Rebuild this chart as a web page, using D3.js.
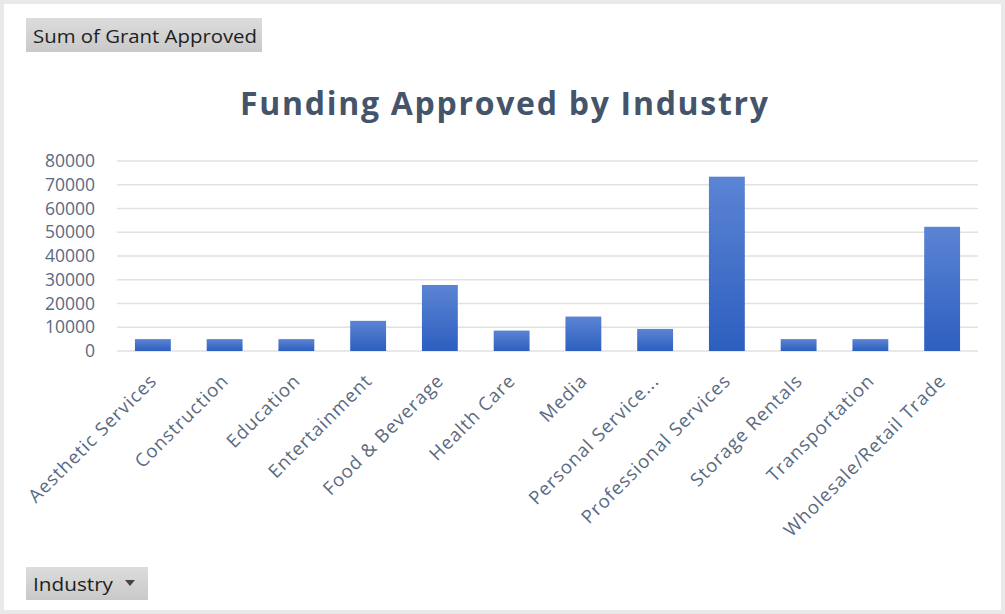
<!DOCTYPE html>
<html>
<head>
<meta charset="utf-8">
<script src="https://cdn.jsdelivr.net/npm/d3@7"></script>
<style>
  body { margin: 0; background: #e9e9e9; }
  svg { display: block; }
</style>
</head>
<body>
<div id="chart"></div>
<script>
// chart data
var industries = ["Aesthetic Services", "Construction", "Education", "Entertainment",
  "Food & Beverage", "Health Care", "Media", "Personal Service...",
  "Professional Services", "Storage Rentals", "Transportation", "Wholesale/Retail Trade"];
var grantApproved = [5000, 5000, 5000, 12700, 27800, 8600, 14500, 9300, 73400, 5000, 5000, 52300];
var yTicks = [0, 10000, 20000, 30000, 40000, 50000, 60000, 70000, 80000];

var svgWidth = 1005, svgHeight = 614;
var margin = { top: 161, left: 117, right: 27, bottom: 263 };
var width = svgWidth - margin.left - margin.right;
var height = svgHeight - margin.top - margin.bottom;

var svg = d3.select("#chart").append("svg")
  .attr("width", svgWidth)
  .attr("height", svgHeight);

// white panel inside the thin grey frame
svg.append("rect")
  .attr("x", 4).attr("y", 4)
  .attr("width", svgWidth - 8).attr("height", svgHeight - 8)
  .attr("fill", "#ffffff");

var defs = svg.append("defs");
var grad = defs.append("linearGradient")
  .attr("id", "barGrad").attr("x1", 0).attr("y1", 0).attr("x2", 0).attr("y2", 1);
grad.append("stop").attr("offset", "0%").attr("stop-color", "#5b84d4");
grad.append("stop").attr("offset", "100%").attr("stop-color", "#2d5fbf");

var btnGrad = defs.append("linearGradient")
  .attr("id", "btnGrad").attr("x1", 0).attr("y1", 0).attr("x2", 0).attr("y2", 1);
btnGrad.append("stop").attr("offset", "0%").attr("stop-color", "#dcdcdc");
btnGrad.append("stop").attr("offset", "100%").attr("stop-color", "#c9c9c9");

// field buttons
svg.append("rect")
  .attr("x", 26).attr("y", 18).attr("width", 236).attr("height", 34)
  .attr("fill", "url(#btnGrad)");
svg.append("text")
  .attr("x", 33).attr("y", 43)
  .attr("font-family", "Open Sans, sans-serif")
  .attr("font-size", 19)
  .attr("fill", "#1e1e1e")
  .attr("textLength", 224)
  .attr("lengthAdjust", "spacingAndGlyphs")
  .text("Sum of Grant Approved");

svg.append("rect")
  .attr("x", 26).attr("y", 567).attr("width", 122).attr("height", 33)
  .attr("fill", "url(#btnGrad)");
svg.append("text")
  .attr("x", 33).attr("y", 591)
  .attr("font-family", "Open Sans, sans-serif")
  .attr("font-size", 19)
  .attr("fill", "#1e1e1e")
  .attr("textLength", 80)
  .attr("lengthAdjust", "spacingAndGlyphs")
  .text("Industry");
svg.append("path")
  .attr("d", "M125,580 L135,580 L130,586 Z")
  .attr("fill", "#444");

// title
svg.append("text")
  .attr("x", 504).attr("y", 115)
  .attr("text-anchor", "middle")
  .attr("font-family", "Open Sans, sans-serif")
  .attr("font-weight", "bold")
  .attr("font-size", 32)
  .attr("fill", "#44546a")
  .attr("textLength", 528)
  .text("Funding Approved by Industry");

var chartGroup = svg.append("g")
  .attr("transform", `translate(${margin.left}, ${margin.top})`);

var xScale = d3.scaleBand()
  .domain(industries)
  .range([0, width])
  .paddingInner(0.5)
  .paddingOuter(0.25);

var yScale = d3.scaleLinear()
  .domain([0, 80000])
  .range([height, 0]);

// gridlines
chartGroup.selectAll(".grid")
  .data(yTicks)
  .enter()
  .append("line")
  .attr("x1", 0).attr("x2", width)
  .attr("y1", d => yScale(d)).attr("y2", d => yScale(d))
  .attr("stroke", "#e1e1e1")
  .attr("stroke-width", 1.5);

// y axis labels
var yAxis = d3.axisLeft(yScale).tickValues(yTicks).tickSize(0).tickPadding(22).tickFormat(d3.format("d"));
var yG = chartGroup.append("g").call(yAxis);
yG.select(".domain").remove();
yG.selectAll("text")
  .attr("font-family", "Open Sans, sans-serif")
  .attr("font-size", 17.5)
  .attr("fill", "#5a6a82");

// bars
chartGroup.selectAll(".bar")
  .data(grantApproved)
  .enter()
  .append("rect")
  .attr("x", (d, i) => xScale(industries[i]))
  .attr("y", d => yScale(d))
  .attr("width", xScale.bandwidth())
  .attr("height", d => height - yScale(d))
  .attr("fill", "url(#barGrad)");

// x axis labels
var xAxis = d3.axisBottom(xScale).tickSize(0).tickPadding(0);
var xG = chartGroup.append("g")
  .attr("transform", `translate(0, ${height})`)
  .call(xAxis);
xG.select(".domain").remove();
xG.selectAll("text")
  .attr("font-family", "Open Sans, sans-serif")
  .attr("font-size", 18.5)
  .attr("letter-spacing", 1)
  .attr("fill", "#5a6a82")
  .attr("text-anchor", "end")
  .attr("dy", 0)
  .attr("transform", "translate(5, 31) rotate(-45)");
</script>
</body>
</html>
